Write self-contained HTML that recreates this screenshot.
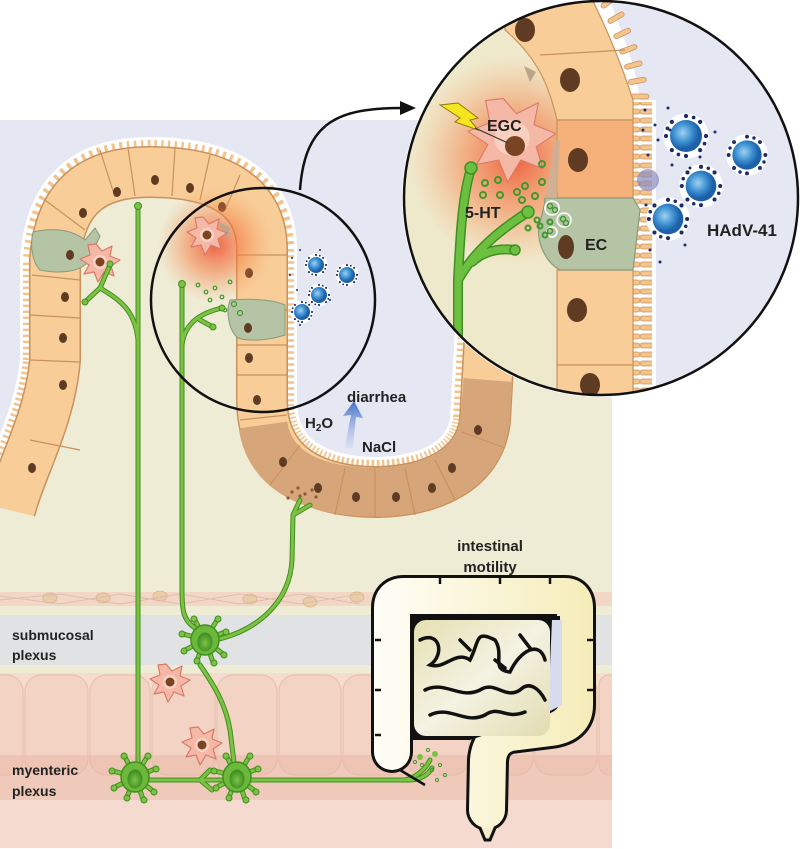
<!DOCTYPE html>
<html><head><meta charset="utf-8"><style>
html,body{margin:0;padding:0;background:#fff}
svg{display:block}
text{font-family:"Liberation Sans",sans-serif;font-weight:bold;fill:#222}
</style></head><body>
<svg width="800" height="849" viewBox="0 0 800 849" xmlns="http://www.w3.org/2000/svg">
<defs>
<clipPath id="lumenClip"><path d="M0 120 H612 V335 L490 330 L485 420 C480 470 430 492 375 492 C320 492 262 470 262 400 L262 250 C262 190 210 172 150 172 C100 172 60 190 55 260 L55 360 C50 420 20 470 10 510 L0 510 Z"/></clipPath>
<clipPath id="bigC"><circle cx="601" cy="198" r="196"/></clipPath>
<radialGradient id="glow"><stop offset="0" stop-color="#f04a2a" stop-opacity="0.85"/><stop offset="0.5" stop-color="#f47a40" stop-opacity="0.5"/><stop offset="1" stop-color="#f7a060" stop-opacity="0"/></radialGradient>
<radialGradient id="vir" cx="0.4" cy="0.4"><stop offset="0" stop-color="#9fd2f2"/><stop offset="0.6" stop-color="#3a8fd0"/><stop offset="1" stop-color="#1d5fa8"/></radialGradient>
<radialGradient id="soma" cx="0.5" cy="0.55"><stop offset="0" stop-color="#7cc24a"/><stop offset="1" stop-color="#3f8f22"/></radialGradient>
<linearGradient id="col" gradientUnits="userSpaceOnUse" x1="370" x2="595" y1="0" y2="0"><stop offset="0" stop-color="#fffef8"/><stop offset="1" stop-color="#f5ecb8"/></linearGradient>
<linearGradient id="si" x1="0" x2="1" y1="0" y2="1"><stop offset="0" stop-color="#e6e0b2"/><stop offset="0.5" stop-color="#f4f2e2"/><stop offset="1" stop-color="#e2dcb0"/></linearGradient>
<linearGradient id="arr" x1="0" y1="1" x2="0" y2="0"><stop offset="0" stop-color="#b9c8ec" stop-opacity="0.3"/><stop offset="1" stop-color="#3f6fc6"/></linearGradient>
<pattern id="mv" width="20" height="9" patternUnits="userSpaceOnUse"><rect x="0" y="1" width="20" height="5" rx="2.5" fill="#f5c48a" stroke="#c99460" stroke-width="0.8"/></pattern>
<symbol id="virus" viewBox="-18 -18 36 36" overflow="visible">
<circle r="17" fill="#fff"/>
<circle r="12" fill="url(#vir)"/>
<g fill="#1d2d6a"><circle cx="0" cy="-15" r="1.6"/><circle cx="0" cy="15" r="1.6"/><circle cx="15" cy="0" r="1.6"/><circle cx="-15" cy="0" r="1.6"/><circle cx="10.6" cy="10.6" r="1.6"/><circle cx="-10.6" cy="10.6" r="1.6"/><circle cx="10.6" cy="-10.6" r="1.6"/><circle cx="-10.6" cy="-10.6" r="1.6"/><circle cx="5.7" cy="-13.9" r="1.4"/><circle cx="-5.7" cy="13.9" r="1.4"/><circle cx="13.9" cy="5.7" r="1.4"/><circle cx="-13.9" cy="-5.7" r="1.4"/></g>
</symbol>
<symbol id="neuron" viewBox="-30 -30 60 60" overflow="visible">
<g stroke="#3f8f22" stroke-width="5" stroke-linecap="round" fill="none"><path d="M0 0 L-22 -6 M0 0 L-20 10 M0 0 L-10 -20 M0 0 L12 -20 M0 0 L20 -8 M0 0 L18 14 M0 0 L-8 20 M0 0 L8 22"/></g>
<g stroke="#7dc242" stroke-width="3" stroke-linecap="round" fill="none"><path d="M0 0 L-22 -6 M0 0 L-20 10 M0 0 L-10 -20 M0 0 L12 -20 M0 0 L20 -8 M0 0 L18 14 M0 0 L-8 20 M0 0 L8 22"/></g>
<g fill="#7dc242" stroke="#3f8f22" stroke-width="1"><circle cx="-23" cy="-6" r="3"/><circle cx="-21" cy="11" r="3"/><circle cx="-11" cy="-21" r="3"/><circle cx="13" cy="-21" r="3"/><circle cx="21" cy="-8" r="3"/><circle cx="19" cy="15" r="3"/><circle cx="-8" cy="21" r="3"/><circle cx="9" cy="23" r="3"/></g>
<ellipse rx="14" ry="15" fill="#6cb83a" stroke="#3f8f22" stroke-width="1.5"/>
<ellipse cx="0" cy="2" rx="7.5" ry="9.5" fill="url(#soma)"/>
</symbol>
<symbol id="egc" viewBox="-25 -25 50 50" overflow="visible">
<path d="M-4 -18 L2 -11 L12 -16 L10 -6 L20 -2 L11 4 L14 14 L4 10 L-2 20 L-6 10 L-16 12 L-11 3 L-20 -3 L-10 -7 L-12 -17 Z" fill="#f6b8a6" stroke="#d87a68" stroke-width="1.2" stroke-linejoin="round"/>
<circle r="7" fill="#fbd9cc" opacity="0.8"/>
<circle r="4.5" fill="#7a4422"/>
</symbol>
</defs>

<rect x="0" y="120" width="612" height="728" fill="#efecd6"/>
<path d="M0 120 H612 V335 L490 330 L485 420 C480 470 430 492 375 492 C320 492 262 470 262 400 L262 250 C262 190 210 172 150 172 C100 172 60 190 55 260 L55 360 C50 420 20 470 10 510 L0 510 Z" fill="#e5e8f3"/>

<rect x="0" y="592" width="612" height="14" fill="#f2d6c6"/>
<g fill="#e9cca8" stroke="#d9b48e" stroke-width="0.8"><ellipse cx="50" cy="598" rx="7" ry="5"/><ellipse cx="103" cy="598" rx="7" ry="5"/><ellipse cx="160" cy="596" rx="7" ry="5"/><ellipse cx="250" cy="599" rx="7" ry="5"/><ellipse cx="310" cy="602" rx="7" ry="5"/><ellipse cx="357" cy="597" rx="7" ry="5"/></g>
<g stroke="#dcb8a6" stroke-width="0.8" fill="none"><path d="M0 600 L60 594 L120 604 L180 594 L240 604 L300 594 L360 604"/><path d="M0 596 L60 604 L120 594 L180 604 L240 594 L300 604 L360 594"/></g>
<rect x="0" y="615" width="612" height="50" fill="#e1e2e3"/>
<rect x="0" y="673" width="612" height="175" fill="#f5dccf"/>
<g fill="#f3d3c3" stroke="#e6bca9" stroke-width="1">
<rect x="-37" y="675" width="60" height="100" rx="16"/><rect x="25" y="675" width="63" height="100" rx="16"/><rect x="90" y="675" width="60" height="100" rx="16"/><rect x="152" y="675" width="63" height="100" rx="16"/><rect x="217" y="675" width="60" height="100" rx="16"/><rect x="279" y="675" width="62" height="100" rx="16"/><rect x="343" y="675" width="62" height="100" rx="16"/><rect x="407" y="675" width="62" height="100" rx="16"/><rect x="471" y="675" width="62" height="100" rx="16"/><rect x="535" y="675" width="62" height="100" rx="16"/><rect x="599" y="675" width="30" height="100" rx="10"/>
</g>
<rect x="0" y="755" width="612" height="45" fill="#eab9a8" opacity="0.55"/>
<rect x="0" y="800" width="612" height="48" fill="#f5dbcf"/>
<rect x="612" y="120" width="188" height="729" fill="#fff"/>

<path d="M10 510 C20 470 50 420 55 360 L55 260 C60 190 100 172 150 172 C210 172 262 190 262 250 L262 400 C262 470 320 492 375 492 C430 492 480 470 485 420 L490 330" fill="none" stroke="#fff" stroke-width="70" clip-path="url(#lumenClip)"/>
<path d="M10 510 C20 470 50 420 55 360 L55 260 C60 190 100 172 150 172 C210 172 262 190 262 250 L262 400 C262 470 320 492 375 492 C430 492 480 470 485 420 L490 330" fill="none" stroke="#f3c38c" stroke-width="64" stroke-dasharray="2.5 3.5" clip-path="url(#lumenClip)"/>
<path d="M10 510 C20 470 50 420 55 360 L55 260 C60 190 100 172 150 172 C210 172 262 190 262 250 L262 400 C262 470 320 492 375 492 C430 492 480 470 485 420 L490 330" fill="none" stroke="#c8925e" stroke-width="52"/>
<path d="M10 510 C20 470 50 420 55 360 L55 260 C60 190 100 172 150 172 C210 172 262 190 262 250 L262 400 C262 470 320 492 375 492 C430 492 480 470 485 420 L490 330" fill="none" stroke="#f8cd98" stroke-width="49"/>
<path d="M263 425 C270 475 320 492 375 492 C430 492 480 470 485 420 L488 380" fill="none" stroke="#d7a57a" stroke-width="49"/>
<g stroke="#c8925e" stroke-width="1.2">
<line x1="30" y1="440" x2="80" y2="450"/><line x1="30" y1="360" x2="80" y2="362"/><line x1="30" y1="315" x2="80" y2="318"/><line x1="32" y1="275" x2="80" y2="280"/><line x1="45" y1="200" x2="85" y2="230"/><line x1="100" y1="150" x2="115" y2="197"/><line x1="128" y1="148" x2="135" y2="196"/><line x1="175" y1="148" x2="172" y2="196"/><line x1="210" y1="155" x2="200" y2="200"/><line x1="240" y1="175" x2="225" y2="210"/><line x1="237" y1="255" x2="287" y2="255"/><line x1="237" y1="310" x2="287" y2="310"/><line x1="237" y1="345" x2="287" y2="345"/><line x1="237" y1="375" x2="287" y2="375"/><line x1="240" y1="420" x2="287" y2="415"/><line x1="270" y1="485" x2="300" y2="445"/><line x1="335" y1="515" x2="345" y2="468"/><line x1="375" y1="517" x2="375" y2="468"/><line x1="415" y1="515" x2="405" y2="468"/><line x1="455" y1="500" x2="435" y2="460"/><line x1="505" y1="448" x2="462" y2="432"/>
</g>
<g fill="#5e3b22">
<ellipse cx="32" cy="468" rx="4" ry="5"/><ellipse cx="63" cy="385" rx="4" ry="5"/><ellipse cx="63" cy="338" rx="4" ry="5"/><ellipse cx="65" cy="297" rx="4" ry="5"/><ellipse cx="83" cy="213" rx="4" ry="5"/><ellipse cx="117" cy="192" rx="4" ry="5"/><ellipse cx="155" cy="180" rx="4" ry="5"/><ellipse cx="190" cy="188" rx="4" ry="5"/><ellipse cx="222" cy="207" rx="4" ry="5"/><ellipse cx="249" cy="273" rx="4" ry="5"/><ellipse cx="247" cy="330" rx="4" ry="5"/><ellipse cx="249" cy="358" rx="4" ry="5"/><ellipse cx="257" cy="400" rx="4" ry="5"/><ellipse cx="283" cy="462" rx="4" ry="5"/><ellipse cx="318" cy="488" rx="4" ry="5"/><ellipse cx="356" cy="497" rx="4" ry="5"/><ellipse cx="396" cy="497" rx="4" ry="5"/><ellipse cx="432" cy="488" rx="4" ry="5"/><ellipse cx="452" cy="468" rx="4" ry="5"/><ellipse cx="478" cy="430" rx="4" ry="5"/>
</g>
<path d="M33 232 C50 228 70 228 85 240 L95 228 L100 236 L88 262 C80 272 60 274 40 270 C32 262 30 245 33 232 Z" fill="#b6c4a6" stroke="#8a9a7a" stroke-width="1"/>
<ellipse cx="70" cy="255" rx="4" ry="5" fill="#5e3b22"/>
<use href="#egc" x="75" y="237" width="50" height="50"/>
<circle cx="215" cy="245" r="58" fill="url(#glow)"/>
<path d="M230 300 C250 298 275 300 285 305 L285 335 C270 340 250 342 238 338 C228 330 226 310 230 300 Z" fill="#b6c4a6" stroke="#8a9a7a" stroke-width="1"/>
<ellipse cx="248" cy="328" rx="4" ry="5" fill="#5e3b22"/>
<path d="M218 222 L230 227 L228 240 Z" fill="#bba58c"/>
<use href="#egc" x="182" y="210" width="50" height="50"/>
<g fill="none" stroke="#3f9a2a" stroke-width="1.2"><circle cx="198" cy="285" r="1.8"/><circle cx="206" cy="292" r="1.8"/><circle cx="215" cy="288" r="1.8"/><circle cx="222" cy="297" r="1.8"/><circle cx="210" cy="300" r="1.8"/><circle cx="230" cy="282" r="1.8"/><circle cx="234" cy="304" r="2.5"/><circle cx="240" cy="313" r="2.5"/><circle cx="225" cy="310" r="1.8"/></g>
<use href="#virus" x="304" y="253" width="24" height="24"/>
<use href="#virus" x="335" y="263" width="24" height="24"/>
<use href="#virus" x="307" y="283" width="24" height="24"/>
<use href="#virus" x="290" y="300" width="24" height="24"/>
<g fill="#1d2d6a"><circle cx="292" cy="258" r="1"/><circle cx="300" cy="250" r="1"/><circle cx="290" cy="275" r="1"/><circle cx="297" cy="290" r="1"/><circle cx="300" cy="325" r="1"/><circle cx="320" cy="250" r="1"/><circle cx="330" cy="300" r="1"/></g>

<g fill="none" stroke-linecap="round">
<g stroke="#3f8f22" stroke-width="5">
<path d="M138 775 V207"/><path d="M138 340 C135 310 120 300 100 288 L85 302 M100 288 L110 265"/>
<path d="M195 628 C183 620 182 610 182 590 V285"/><path d="M182 345 C185 320 205 312 222 308 M200 320 L213 327"/>
<path d="M215 640 C260 630 290 600 292 560 L293 515 L300 500 M293 515 L310 505"/>
<path d="M200 665 C210 680 225 700 230 730 L235 770"/>
<path d="M140 780 H230 M200 780 L210 770 M200 780 L212 790"/>
<path d="M240 780 H410 C420 780 428 775 432 768 M405 780 C415 778 425 770 430 760"/>
</g>
<g stroke="#7dc242" stroke-width="3">
<path d="M138 775 V207"/><path d="M138 340 C135 310 120 300 100 288 L85 302 M100 288 L110 265"/>
<path d="M195 628 C183 620 182 610 182 590 V285"/><path d="M182 345 C185 320 205 312 222 308 M200 320 L213 327"/>
<path d="M215 640 C260 630 290 600 292 560 L293 515 L300 500 M293 515 L310 505"/>
<path d="M200 665 C210 680 225 700 230 730 L235 770"/>
<path d="M140 780 H230 M200 780 L210 770 M200 780 L212 790"/>
<path d="M240 780 H410 C420 780 428 775 432 768 M405 780 C415 778 425 770 430 760"/>
</g>
</g>
<g fill="#7dc242" stroke="#3f8f22" stroke-width="1"><circle cx="138" cy="206" r="3.5"/><circle cx="182" cy="284" r="3.5"/><circle cx="222" cy="308" r="3"/><circle cx="213" cy="327" r="3"/><circle cx="85" cy="302" r="3"/><circle cx="110" cy="264" r="3"/></g>
<g fill="#8a5a3a"><circle cx="292" cy="492" r="1.6"/><circle cx="298" cy="488" r="1.6"/><circle cx="305" cy="494" r="1.6"/><circle cx="312" cy="490" r="1.6"/><circle cx="288" cy="498" r="1.6"/><circle cx="316" cy="497" r="1.6"/><circle cx="300" cy="496" r="1.6"/></g>
<use href="#neuron" x="175" y="610" width="60" height="60"/>
<use href="#neuron" x="105" y="747" width="60" height="60"/>
<use href="#neuron" x="207" y="747" width="60" height="60"/>
<use href="#egc" x="145" y="657" width="50" height="50"/>
<use href="#egc" x="177" y="720" width="50" height="50"/>

<!-- colon -->
<path d="M392 752 L392 608 Q392 596 404 596 L565 596 Q575 596 575 608 L575 705 Q575 725 550 728 L510 733 Q490 738 488 760 L487 810" fill="none" stroke="#111" stroke-width="42" stroke-linejoin="round" stroke-linecap="round"/>
<path d="M486 800 Q470 810 480 828 L485 840 L490 840 L495 828 Q505 810 490 800 Z" fill="#f3ecc8" stroke="#111" stroke-width="3"/>
<path d="M392 752 L392 608 Q392 596 404 596 L565 596 Q575 596 575 608 L575 705 Q575 725 550 728 L510 733 Q490 738 488 760 L487 810" fill="none" stroke="url(#col)" stroke-width="36" stroke-linejoin="round" stroke-linecap="round"/>
<g stroke="#111" stroke-width="2.5" fill="none"><path d="M375 640 l6 0 M375 690 l6 0 M375 735 l6 0 M440 578 l0 6 M500 578 l0 6 M550 578 l0 6 M587 640 l6 0 M587 690 l6 0"/><path d="M400 770 L425 785"/></g>
<path d="M412 616 H560 V700 Q560 710 548 714 L470 740 H412 Z" fill="#111"/>
<path d="M552 620 H562 V705 L548 712 Z" fill="#d6dcee"/>
<rect x="414" y="620" width="136" height="116" rx="12" fill="url(#si)"/>
<g stroke="#111" stroke-width="3.5" fill="none" stroke-linecap="round">
<path d="M420 640 C440 630 445 655 430 665 C445 670 455 650 470 660 C480 640 475 630 495 640 C505 655 490 670 510 672 C520 650 540 640 545 660"/>
<path d="M425 690 C445 680 460 700 480 690 C495 680 505 700 520 690 C530 680 540 690 545 700"/>
<path d="M430 715 C450 705 465 725 485 715 C500 705 505 720 525 712"/>
<path d="M460 640 L470 650 M520 635 L530 648 M495 660 L505 668"/>
</g>

<g fill="#7dc242"><circle cx="420" cy="757" r="3"/><circle cx="435" cy="754" r="3"/></g>
<g fill="none" stroke="#3f9a2a" stroke-width="1"><circle cx="422" cy="765" r="1.6"/><circle cx="428" cy="750" r="1.6"/><circle cx="440" cy="765" r="1.6"/><circle cx="445" cy="775" r="1.6"/><circle cx="437" cy="780" r="1.6"/><circle cx="415" cy="762" r="1.6"/><circle cx="432" cy="770" r="1.6"/></g>

<text x="12" y="640" font-size="14">submucosal</text>
<text x="12" y="660" font-size="14">plexus</text>
<text x="12" y="775" font-size="14">myenteric</text>
<text x="12" y="796" font-size="14">plexus</text>
<text x="490" y="551" font-size="15" text-anchor="middle">intestinal</text>
<text x="490" y="572" font-size="15" text-anchor="middle">motility</text>

<path d="M345 448 C348 430 350 420 351 415 L343 416 L354 401 L363 418 L356 417 C355 425 354 435 353 448 Z" fill="url(#arr)"/>
<text x="347" y="402" font-size="15">diarrhea</text>
<text x="305" y="428" font-size="15">H<tspan font-size="10" dy="3">2</tspan><tspan dy="-3">O</tspan></text>
<text x="362" y="452" font-size="15">NaCl</text>

<circle cx="263" cy="300" r="112" fill="none" stroke="#111" stroke-width="2.5"/>
<path d="M300 190 C305 120 340 108 403 108" fill="none" stroke="#111" stroke-width="2.5"/>
<path d="M400 101 L416 108 L400 115 Z" fill="#111"/>

<circle cx="601" cy="198" r="199" fill="#fff"/>
<g clip-path="url(#bigC)">
<rect x="400" y="0" width="400" height="400" fill="#e5e8f3"/>
<path d="M400 0 H530 C545 40 560 80 560 120 L558 400 H400 Z" fill="#efe9cc"/>
<circle cx="515" cy="160" r="105" fill="url(#glow)"/>
<rect x="630" y="100" width="26" height="300" fill="#fff"/>
<rect x="632" y="102" width="20" height="298" fill="url(#mv)"/>
<path d="M545 -10 L610 0 C620 30 635 60 640 100 L632 100 Z" fill="#fff"/>
<g fill="#f5c48a" stroke="#c99460" stroke-width="0.8"><rect x="600" y="5" width="18" height="5" rx="2.5" transform="rotate(-35 600 5)"/><rect x="607" y="20" width="18" height="5" rx="2.5" transform="rotate(-30 607 20)"/><rect x="613" y="35" width="18" height="5" rx="2.5" transform="rotate(-25 613 35)"/><rect x="619" y="50" width="18" height="5" rx="2.5" transform="rotate(-20 619 50)"/><rect x="624" y="65" width="18" height="5" rx="2.5" transform="rotate(-15 624 65)"/><rect x="628" y="80" width="18" height="5" rx="2.5" transform="rotate(-10 628 80)"/><rect x="631" y="94" width="18" height="5" rx="2.5"/></g>
<g stroke="#c8925e" stroke-width="1.2">
<path d="M505 -5 L590 -5 C605 25 620 60 633 100 L633 120 L557 120 C550 90 540 60 505 30 Z" fill="#f8cd98"/>
<path d="M540 55 L625 50" fill="none"/>
<rect x="557" y="120" width="76" height="78" fill="#f6b07a"/>
<rect x="557" y="270" width="76" height="95" fill="#f8cd98"/>
<rect x="557" y="365" width="76" height="40" fill="#f8cd98"/>
</g>
<path d="M545 198 L633 198 L640 210 L633 270 L560 270 C545 262 535 240 540 222 C543 210 545 205 545 198 Z" fill="#b6c4a6" stroke="#8a9a7a" stroke-width="1.2"/>
<path d="M545 198 C548 180 552 160 555 140 L560 140 L557 198 Z" fill="#c9b29a" opacity="0.8"/>
<g fill="#5e3b22">
<ellipse cx="525" cy="30" rx="10" ry="12"/><ellipse cx="570" cy="80" rx="10" ry="12"/><ellipse cx="578" cy="160" rx="10" ry="12"/><ellipse cx="566" cy="247" rx="8" ry="12"/><ellipse cx="577" cy="310" rx="10" ry="12"/><ellipse cx="590" cy="385" rx="10" ry="12"/>
</g>
<path d="M524 66 L536 72 L530 82 Z" fill="#bba58c"/>
<g fill="none" stroke="#fff" stroke-width="1.5"><circle cx="552" cy="208" r="7"/><circle cx="564" cy="220" r="7"/><circle cx="552" cy="232" r="5"/></g>
<g fill="none" stroke="#3f9a2a" stroke-width="1.5"><circle cx="550" cy="206" r="2.5"/><circle cx="555" cy="210" r="2.5"/><circle cx="563" cy="219" r="2.5"/><circle cx="566" cy="223" r="2.5"/><circle cx="550" cy="231" r="2.5"/></g>
<g transform="translate(512 138) scale(2.2)"><path d="M-4 -18 L2 -11 L12 -16 L10 -6 L20 -2 L11 4 L14 14 L4 10 L-2 20 L-6 10 L-16 12 L-11 3 L-20 -3 L-10 -7 L-12 -17 Z" fill="#f6b8a6" stroke="#d87a68" stroke-width="0.5" stroke-linejoin="round"/><circle r="8" fill="#fbd9cc" opacity="0.7"/></g>
<ellipse cx="515" cy="146" rx="10" ry="10" fill="#7a4422"/>
<path d="M440 105 L460 118 L455 122 L478 130 L470 120 L478 118 L458 103 Z" fill="#f5e51e" stroke="#8a7a10" stroke-width="1"/>
<line x1="475" y1="128" x2="508" y2="143" stroke="#333" stroke-width="1.2"/>
<g fill="none" stroke="#3f9a2a" stroke-width="2"><circle cx="485" cy="183" r="3"/><circle cx="498" cy="180" r="3"/><circle cx="525" cy="186" r="3"/><circle cx="542" cy="164" r="3"/><circle cx="542" cy="182" r="3"/><circle cx="483" cy="195" r="3"/><circle cx="500" cy="195" r="3"/><circle cx="517" cy="192" r="3"/><circle cx="535" cy="196" r="3"/><circle cx="522" cy="200" r="3"/><circle cx="528" cy="228" r="2.5"/><circle cx="540" cy="226" r="2.5"/><circle cx="550" cy="222" r="2.5"/><circle cx="545" cy="235" r="2.5"/><circle cx="537" cy="220" r="2.5"/></g>
<g fill="none" stroke-linecap="round">
<path d="M458 400 L458 280 C460 240 462 200 470 172 M458 280 C475 250 500 230 528 212 M472 262 C485 250 500 248 515 250" stroke="#3f8f22" stroke-width="10"/>
<path d="M458 400 L458 280 C460 240 462 200 470 172 M458 280 C475 250 500 230 528 212 M472 262 C485 250 500 248 515 250" stroke="#6cc040" stroke-width="7"/>
</g>
<g fill="#6cc040" stroke="#3f8f22" stroke-width="1.5"><circle cx="471" cy="168" r="6"/><circle cx="528" cy="212" r="6"/><circle cx="515" cy="250" r="5"/></g>
<use href="#virus" x="662" y="112" width="48" height="48"/>
<use href="#virus" x="725" y="133" width="44" height="44"/>
<use href="#virus" x="678" y="163" width="46" height="46"/>
<use href="#virus" x="645" y="196" width="46" height="46"/>
<circle cx="648" cy="180" r="11" fill="#8a8ac0" opacity="0.7"/>
<g fill="#1d2d6a"><circle cx="645" cy="110" r="1.5"/><circle cx="668" cy="108" r="1.5"/><circle cx="670" cy="130" r="1.5"/><circle cx="658" cy="140" r="1.5"/><circle cx="648" cy="155" r="1.5"/><circle cx="690" cy="168" r="1.5"/><circle cx="715" cy="132" r="1.5"/><circle cx="672" cy="165" r="1.5"/><circle cx="646" cy="205" r="1.5"/><circle cx="650" cy="250" r="1.5"/><circle cx="660" cy="262" r="1.5"/><circle cx="685" cy="245" r="1.5"/><circle cx="700" cy="157" r="1.5"/><circle cx="643" cy="130" r="1.5"/><circle cx="655" cy="125" r="1.5"/></g>
</g>
<circle cx="601" cy="198" r="197" fill="none" stroke="#111" stroke-width="2.5"/>
<text x="487" y="131" font-size="16">EGC</text>
<text x="465" y="218" font-size="16">5-HT</text>
<text x="585" y="250" font-size="16">EC</text>
<text x="707" y="236" font-size="17">HAdV-41</text>
</svg>
</body></html>
